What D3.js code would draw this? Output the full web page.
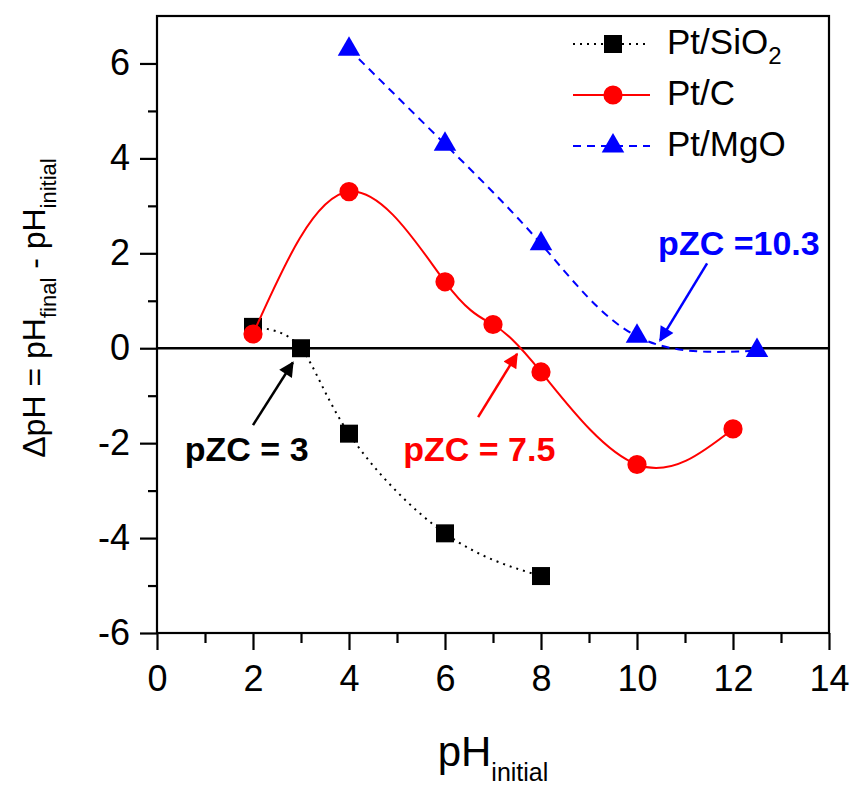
<!DOCTYPE html>
<html>
<head>
<meta charset="utf-8">
<script src="https://cdn.jsdelivr.net/npm/d3@7"></script>
<style>
  body { margin: 0; background: #fff; }
  text { font-family: Arial, "Liberation Sans", sans-serif; }
</style>
</head>
<body>
<svg id="chart" width="857" height="789"></svg>
<script>
// data
const sio2X = [2, 3, 4, 6, 8]
const sio2Y = [0.45, 0, -1.8, -3.9, -4.8]
const carbonX = [2, 4, 6, 7, 8, 10, 12]
const carbonY = [0.3, 3.3, 1.4, 0.5, -0.5, -2.45, -1.7]
const mgoX = [4, 6, 8, 10, 12.5]
const mgoY = [6.3, 4.3, 2.2, 0.25, -0.05]

const xTicks = [0, 2, 4, 6, 8, 10, 12, 14]
const yTicks = [-6, -4, -2, 0, 2, 4, 6]

// annotation text + arrow (tail -> head) in data units
const notes = [
  {text: 'pZC = 3', color: '#000000', tx: 0.58, ty: -2.38, x1: 2.0, y1: -1.62, x2: 2.83, y2: -0.3},
  {text: 'pZC = 7.5', color: '#ff0000', tx: 5.13, ty: -2.38, x1: 6.69, y1: -1.45, x2: 7.5, y2: -0.12},
  {text: 'pZC =10.3', color: '#0000ff', tx: 10.44, ty: 1.96, x1: 11.46, y1: 1.79, x2: 10.48, y2: 0.16},
]

const series = [
  {name: 'Pt/SiO', sub: '2', xs: sio2X, ys: sio2Y, color: '#000000', dash: '2,5', symbol: d3.symbolSquare, size: 324},
  {name: 'Pt/C', sub: '', xs: carbonX, ys: carbonY, color: '#ff0000', dash: null, symbol: d3.symbolCircle, size: 290},
  {name: 'Pt/MgO', sub: '', xs: mgoX, ys: mgoY, color: '#0000ff', dash: '8,6', symbol: d3.symbolTriangle, size: 220},
]

const margin = {left: 157, top: 16, right: 28, bottom: 156}
const width = 857, height = 789

const x = d3.scaleLinear().domain([0, 14]).range([margin.left, width - margin.right])
const y = d3.scaleLinear().domain([-6, 7]).range([height - margin.bottom, margin.top])

const svg = d3.select('#chart')

const defs = svg.append('defs')
notes.forEach((n, i) => {
  defs.append('marker')
    .attr('id', 'arrow' + i)
    .attr('viewBox', '0 0 10 10')
    .attr('refX', 9).attr('refY', 5)
    .attr('markerWidth', 7).attr('markerHeight', 6)
    .attr('markerUnits', 'strokeWidth')
    .attr('orient', 'auto')
    .append('path')
    .attr('d', 'M0,0 L10,5 L0,10 z')
    .attr('fill', n.color)
})

// axes (hyphen minus like the original)
const fmt = d => String(d)

const xAxis = svg.append('g')
  .attr('transform', `translate(0,${y(-6)})`)
  .call(d3.axisBottom(x).tickValues(xTicks).tickFormat(fmt).tickSize(17).tickPadding(15).tickSizeOuter(0))
xAxis.select('.domain').remove()
xAxis.selectAll('line').attr('stroke-width', 2.2)
xAxis.selectAll('text').attr('font-size', 36).attr('fill', '#000')

svg.append('g')
  .attr('transform', `translate(0,${y(-6)})`)
  .call(d3.axisBottom(x).tickValues(d3.range(1, 14, 2)).tickSize(10).tickFormat(''))
  .call(g => g.select('.domain').remove())
  .selectAll('line').attr('stroke-width', 2.2)

const yAxis = svg.append('g')
  .attr('transform', `translate(${x(0)},0)`)
  .call(d3.axisLeft(y).tickValues(yTicks).tickFormat(fmt).tickSize(17).tickPadding(10))
yAxis.select('.domain').remove()
yAxis.selectAll('line').attr('stroke-width', 2.2)
yAxis.selectAll('text').attr('font-size', 36).attr('fill', '#000')

svg.append('g')
  .attr('transform', `translate(${x(0)},0)`)
  .call(d3.axisLeft(y).tickValues([-5, -3, -1, 1, 3, 5]).tickSize(9).tickFormat(''))
  .call(g => g.select('.domain').remove())
  .selectAll('line').attr('stroke-width', 2.2)

// frame
svg.append('rect')
  .attr('x', x(0)).attr('y', y(7))
  .attr('width', x(14) - x(0)).attr('height', y(-6) - y(7))
  .attr('fill', 'none').attr('stroke', '#000').attr('stroke-width', 2.2)

// zero line
svg.append('line')
  .attr('x1', x(0)).attr('x2', x(14))
  .attr('y1', y(0)).attr('y2', y(0))
  .attr('stroke', '#000').attr('stroke-width', 2.6)

const line = d3.line().curve(d3.curveNatural).x(d => x(d[0])).y(d => y(d[1]))

series.forEach(s => {
  const pts = s.xs.map((v, i) => [v, s.ys[i]])
  svg.append('path')
    .attr('d', line(pts))
    .attr('fill', 'none')
    .attr('stroke', s.color)
    .attr('stroke-width', 2)
    .attr('stroke-dasharray', s.dash)
  svg.append('g')
    .selectAll('path')
    .data(pts)
    .join('path')
    .attr('transform', d => `translate(${x(d[0])},${y(d[1])})`)
    .attr('d', d3.symbol(s.symbol, s.size))
    .attr('fill', s.color)
})

// annotations
notes.forEach((n, i) => {
  svg.append('line')
    .attr('x1', x(n.x1)).attr('y1', y(n.y1))
    .attr('x2', x(n.x2)).attr('y2', y(n.y2))
    .attr('stroke', n.color).attr('stroke-width', 2.5)
    .attr('marker-end', `url(#arrow${i})`)
  svg.append('text')
    .attr('x', x(n.tx)).attr('y', y(n.ty))
    .attr('font-size', 34).attr('font-weight', 'bold')
    .attr('fill', n.color)
    .text(n.text)
})

// legend
const legend = svg.append('g').attr('transform', 'translate(573,54)')
series.forEach((s, i) => {
  const row = legend.append('g').attr('transform', `translate(0,${i * 51})`)
  row.append('line')
    .attr('x1', 0).attr('x2', 77).attr('y1', -10).attr('y2', -10)
    .attr('stroke', s.color).attr('stroke-width', 2)
    .attr('stroke-dasharray', s.dash)
  row.append('path')
    .attr('transform', 'translate(40,-10)')
    .attr('d', d3.symbol(s.symbol, s.size))
    .attr('fill', s.color)
  const t = row.append('text').attr('x', 94).attr('y', 0).attr('font-size', 35).attr('fill', '#000')
  t.append('tspan').text(s.name)
  if (s.sub) t.append('tspan').attr('font-size', 24).attr('dy', 10).text(s.sub)
})

// axis titles
const xt = svg.append('text')
  .attr('x', x(7)).attr('y', 766)
  .attr('text-anchor', 'middle').attr('font-size', 42).attr('fill', '#000')
xt.append('tspan').text('pH')
xt.append('tspan').attr('font-size', 25).attr('dy', 15).text('initial')

const yt = svg.append('text')
  .attr('transform', 'translate(45,308) rotate(-90)')
  .attr('text-anchor', 'middle').attr('font-size', 32).attr('fill', '#000')
yt.append('tspan').text('ΔpH = pH')
yt.append('tspan').attr('font-size', 22).attr('dy', 11).text('final')
yt.append('tspan').attr('dy', -11).text(' - pH')
yt.append('tspan').attr('font-size', 22).attr('dy', 11).text('initial')
</script>
</body>
</html>
